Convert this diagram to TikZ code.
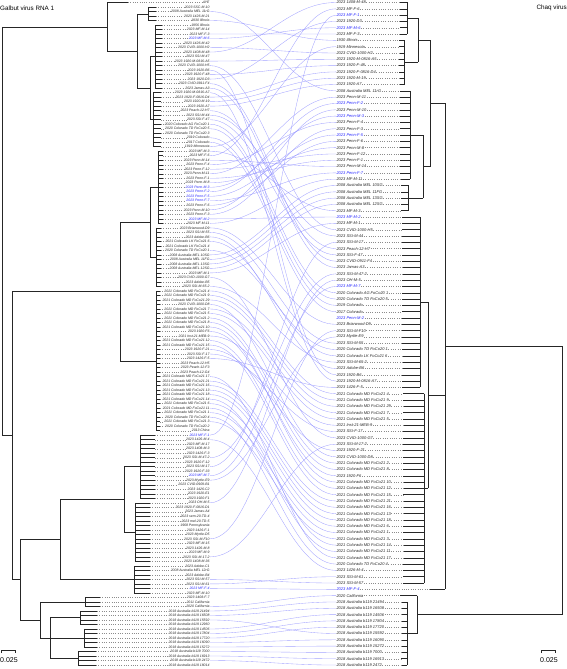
\documentclass[tikz,border=0pt]{standalone}
\usepackage{fontspec}
\setmainfont{Liberation Sans}
\begin{document}
\begin{tikzpicture}[x=1pt,y=-1pt,
  lab/.style={font=\fontsize{3.45}{3.45}\selectfont\itshape, inner sep=0.3pt},
  rlab/.style={font=\fontsize{4}{4}\selectfont\itshape, inner sep=0.3pt},
  br/.style={line width=0.5pt, black!85},
  leader/.style={dotted, line width=0.3pt, black!45},
  tangle/.style={line width=0.35pt, blue!45!white, opacity=0.8},
  title/.style={font=\fontsize{6.3}{6.3}\selectfont, inner sep=0pt, anchor=west},
  scl/.style={font=\fontsize{7}{7}\selectfont, inner sep=0pt}]
\useasboundingbox (0,0) rectangle (567,669);

% row positions of the tips
\def\ly#1{{2.5+4.507*(#1)}}
\def\ry#1{{2.5+6.31*(#1)}}
\newcommand\LV[3]{\draw[br] (#1,\ly{#2}) -- (#1,\ly{#3});}
\newcommand\LH[3]{\draw[br] (#1,\ly{#3}) -- (#2,\ly{#3});}
\newcommand\RV[3]{\draw[br] (#1,\ry{#2}) -- (#1,\ry{#3});}
\newcommand\RH[3]{\draw[br] (#1,\ry{#3}) -- (#2,\ry{#3});}
% a group of sister tips: rows #1..#2, node x #3, tip x #4, parent x #5
\newcommand\LG[5]{%
  \LV{#3}{#1}{#2}
  \foreach \r in {#1,...,#2}{\draw[br] (#3,\ly{\r}) -- (#4,\ly{\r}); \draw[leader] (#4,\ly{\r}) -- (L\r.west);}
  \LH{#5}{#3}{(#1+#2)/2}}
\newcommand\RG[5]{%
  \RV{#3}{#1}{#2}
  \foreach \r in {#1,...,#2}{\draw[br] (#3,\ry{\r}) -- (#4,\ry{\r}); \draw[leader] (R\r.east) -- (#4,\ry{\r});}
  \RH{#5}{#3}{(#1+#2)/2}}

% titles
\node[title] (tl) at (0,8) {Galbut virus RNA 1};
\node[title, anchor=east] (tr) at (567,8) {Chaq virus};

% left tip labels
\foreach \i/\s/\c in {
0/AYE/black, 1/2023 SSC-M-10/black, 2/2008 Australia MEL 11rG/black, 3/2023 1426-M-21/black,
4/1930 Illinois/black, 5/1956 Illinois/black, 6/2023 MF-M-14/black, 7/2023 MF-F-3/black,
8/2023 MF-M-6/blue, 9/2023 1426-M-42/black, 10/2023 CVID-1000-H2/black, 11/2023 1408-M-48/black,
12/2023 SSI-M-47/black, 13/2023 1920-M-0816-A5/black, 14/2023 CVID-1000-H5/black, 15/2023 1920-B6/black,
16/2023 1920-F-48/black, 17/2023 1920-D3/black, 18/2023 CVID-0911-F4/black, 19/2023 Jamas-A3/black,
20/2023 1920-M-0816-A7/black, 21/2023 1920-F-0816-D4/black, 22/2023 1920-M-19/black, 23/2023 1920-A7/black,
24/2023 Peach-12-H7/black, 25/2023 SSI-M-44/black, 26/2023 SSI-F-47/black, 27/2020 Colorado AG FoCo20 1/black,
28/2020 Colorado TD FoCo20 5/black, 29/2020 Colorado TD FoCo20 3/black, 30/2019 Colorado/black, 31/2017 Colorado/black,
32/1919 Minnesota/black, 33/2023 MF-M-3/black, 34/2023 MF-F-6/black, 35/2023 Penn-M-14/black,
36/2023 Penn-F-4/black, 37/2023 Penn-F-12/black, 38/2023 Penn-M-11/black, 39/2023 Penn-F-1/black,
40/2023 Penn-M-8/black, 41/2023 Penn-M-3/blue, 42/2023 Penn-F-2/blue, 43/2023 Penn-F-5/blue,
44/2023 Penn-F-7/blue, 45/2023 Penn-F-6/black, 46/2023 Penn-M-10/black, 47/2023 Penn-F-3/black,
48/2023 MF-M-2/blue, 49/2023 MF-M-11/black, 50/2023 Briarwood-D9/black, 51/2023 SSI-M-55/black,
52/2023 Adobe-B6/black, 53/2021 Colorado LK FoCo21 6/black, 54/2021 Colorado LK FoCo21 4/black, 55/2020 Colorado TD FoCo20 1/black,
56/2008 Australia MEL 10SG/black, 57/2008 Australia MEL 11FG/black, 58/2008 Australia MEL 13SG/black, 59/2008 Australia MEL 12SG/black,
60/2023 MF-M-1/black, 61/2023 CVID-1000-G7/black, 62/2023 Adobe-B5/black, 63/2023 SSI-M-65-2/black,
64/2021 Colorado MD FoCo21 4/black, 65/2021 Colorado MD FoCo21 9/black, 66/2021 Colorado MD FoCo21 29/black, 67/2023 CVID-1000-D8/black,
68/2021 Colorado MD FoCo21 7/black, 69/2021 Colorado MD FoCo21 5/black, 70/2021 Colorado MD FoCo21 2/black, 71/2021 Colorado MD FoCo21 8/black,
72/2021 Colorado MD FoCo21 10/black, 73/2023 1920-F6/black, 74/2021 Inst-21-MEB-9/black, 75/2021 Colorado MD FoCo21 12/black,
76/2021 Colorado MD FoCo21 15/black, 77/2023 1920-F-21/black, 78/2023 SSI-F-17/black, 79/2023 1426-F-5/black,
80/2023 Peach-12-H5/black, 81/2023 Peach-12-F3/black, 82/2023 Peach-12-G4/black, 83/2021 Colorado MD FoCo21 17/black,
84/2021 Colorado MD FoCo21 21/black, 85/2021 Colorado MD FoCo21 16/black, 86/2021 Colorado MD FoCo21 13/black, 87/2021 Colorado MD FoCo21 18/black,
88/2021 Colorado MD FoCo21 14/black, 89/2021 Colorado MD FoCo21 6/black, 90/2021 Colorado MD FoCo21 11/black, 91/2021 Colorado MD FoCo21 1/black,
92/2020 Colorado TD FoCo20 4/black, 93/2021 Colorado MD FoCo21 3/black, 94/2020 Colorado TD FoCo20 2/black, 95/2013 China/black,
96/2023 MF-F-1/blue, 97/2023 1426-M-4/black, 98/2023 MF-M-17/black, 99/2023 1408-M-3/black,
100/2023 1426-F-3/black, 101/2023 SSI-M-47-2/black, 102/2023 1920-F-12/black, 103/2023 SSI-M-17/black,
104/2023 1920-F-33/black, 105/2023 MF-M-7/blue, 106/2023 Myrtle-E9/black, 107/2023 CVID-0909-B1/black,
108/2023 1426-C2/black, 109/2023 1920-E1/black, 110/2023 1920-F1/black, 111/2023 OH-M-5/black,
112/2023 1920-F-0816-D1/black, 113/2023 Jamas-A4/black, 114/2023 sem-20-TD-4/black, 115/2023 mel-20-TD-5/black,
116/1968 Pennsylvania/black, 117/2023 1426-F-1/black, 118/2023 Myrtle-D5/black, 119/2023 SSI-M-F10/black,
120/2023 MF-M-15/black, 121/2023 1426-M-8/black, 122/2023 MF-M-9/black, 123/2023 SSI-M-17-2/black,
124/2023 1408-M-36/black, 125/2023 Adobe-C1/black, 126/2008 Australia MEL 12rG/black, 127/2023 Adobe-B4/black,
128/2023 SSI-M-57/black, 129/2023 SSI-M-61/black, 130/2023 MF-F-4/blue, 131/2023 MF-M-10/black,
132/2023 1408-F-7/black, 133/2011 California/black, 134/2020 California/black,
135/2018 Australia b119 21494/black, 136/2018 Australia b119 16508/black, 137/2018 Australia b119 15592/black,
138/2018 Australia b119 12960/black, 139/2018 Australia b119 14506/black, 140/2018 Australia b119 17804/black,
141/2018 Australia b119 17720/black, 142/2018 Australia b119 16090/black, 143/2018 Australia b119 15272/black,
144/2018 Australia b119 7000/black, 145/2018 Australia b119 16913/black, 146/2018 Australia b119 2472/black,
147/2018 Australia b119 18014/black}
  {\node[lab, anchor=east, text=\c!85] (L\i) at (210,\ly{\i}) {\s};}

% right tip labels
\foreach \j/\s/\c in {
0/2023 1408-M-48/black, 1/2023 MF-F-6/black, 2/2023 MF-F-1/blue, 3/2023 1920-D3/black,
4/2023 MF-M-6/blue, 5/2023 MF-F-3/black, 6/1930 Illinois/black, 7/1919 Minnesota/black,
8/2023 CVID-1000-H2/black, 9/2023 1920-M-0816-A5/black, 10/2023 1920-F-48/black, 11/2023 1920-F-0816-D4/black,
12/2023 1920-M-19/black, 13/2023 1920-A7/black, 14/2008 Australia MEL 11rG/black, 15/2023 Penn-M-11/black,
16/2023 Penn-F-2/blue, 17/2023 Penn-M-10/black, 18/2023 Penn-M-3/blue, 19/2023 Penn-F-4/black,
20/2023 Penn-F-3/black, 21/2023 Penn-F-5/blue, 22/2023 Penn-F-6/black, 23/2023 Penn-M-8/black,
24/2023 Penn-F-12/black, 25/2023 Penn-F-1/black, 26/2023 Penn-M-14/black, 27/2023 Penn-F-7/blue,
28/2023 MF-M-11/black, 29/2008 Australia MEL 10SG/black, 30/2008 Australia MEL 11FG/black, 31/2008 Australia MEL 13SG/black,
32/2008 Australia MEL 12SG/black, 33/2023 MF-M-3/black, 34/2023 MF-M-2/blue, 35/2023 MF-M-1/black,
36/2023 CVID-1000-H5/black, 37/2023 SSI-M-44/black, 38/2023 SSI-M-17/black, 39/2023 Peach-12-H7/black,
40/2023 SSI-F-47/black, 41/2023 CVID-0911-F4/black, 42/2023 Jamas-A3/black, 43/2023 SSI-M-47-2/black,
44/2023 OH-M-5/black, 45/2023 MF-M-7/blue, 46/2020 Colorado AG FoCo20 1/black, 47/2020 Colorado TD FoCo20 5/black,
48/2019 Colorado/black, 49/2017 Colorado/black, 50/2023 Penn-M-2/blue, 51/2023 Briarwood-D9/black,
52/2023 SSI-M-F10/black, 53/2023 Myrtle-E9/black, 54/2023 SSI-M-55/black, 55/2020 Colorado TD FoCo20 1/black,
56/2021 Colorado LK FoCo21 6/black, 57/2023 SSI-M-65-2/black, 58/2023 Adobe-B6/black, 59/2023 1920-B6/black,
60/2023 1920-M-0816-A7/black, 61/2023 1426-F-5/black, 62/2021 Colorado MD FoCo21 4/black, 63/2021 Colorado MD FoCo21 9/black,
64/2021 Colorado MD FoCo21 29/black, 65/2021 Colorado MD FoCo21 7/black, 66/2021 Colorado MD FoCo21 5/black, 67/2021 Inst-21-MEB-9/black,
68/2023 SSI-F-17/black, 69/2023 CVID-1000-G7/black, 70/2023 SSI-M-17-2/black, 71/2023 1920-F-21/black,
72/2023 CVID-1000-D8/black, 73/2021 Colorado MD FoCo21 2/black, 74/2021 Colorado MD FoCo21 8/black, 75/2023 1920-F6/black,
76/2021 Colorado MD FoCo21 10/black, 77/2021 Colorado MD FoCo21 12/black, 78/2021 Colorado MD FoCo21 15/black, 79/2021 Colorado MD FoCo21 21/black,
80/2021 Colorado MD FoCo21 16/black, 81/2021 Colorado MD FoCo21 13/black, 82/2021 Colorado MD FoCo21 18/black, 83/2021 Colorado MD FoCo21 6/black,
84/2021 Colorado MD FoCo21 1/black, 85/2021 Colorado MD FoCo21 3/black, 86/2021 Colorado MD FoCo21 14/black, 87/2021 Colorado MD FoCo21 11/black,
88/2021 Colorado MD FoCo21 17/black, 89/2020 Colorado TD FoCo20 4/black, 90/2023 1426-M-4/black, 91/2023 SSI-M-61/black,
92/2023 SSI-M-57/black, 93/2023 MF-F-4/blue, 94/2020 California/black,
95/2018 Australia b119 21494/black, 96/2018 Australia b119 16508/black, 97/2018 Australia b119 14506/black,
98/2018 Australia b119 17804/black, 99/2018 Australia b119 17720/black, 100/2018 Australia b119 15592/black,
101/2018 Australia b119 16090/black, 102/2018 Australia b119 15272/black, 103/2018 Australia b119 7000/black,
104/2018 Australia b119 16913/black, 105/2018 Australia b119 2472/black}
  {\node[rlab, anchor=west, text=\c!85] (R\j) at (336,\ry{\j}) {\s};}

% connectors between the same isolate in both trees
\foreach \a/\b in {11/0, 34/1, 96/2, 17/3, 8/4, 7/5, 4/6, 32/7, 10/8, 13/9, 16/10, 21/11, 22/12, 23/13, 2/14,
  38/15, 42/16, 46/17, 41/18, 36/19, 47/20, 43/21, 45/22, 40/23, 37/24, 39/25, 35/26, 44/27, 49/28,
  56/29, 57/30, 58/31, 59/32, 33/33, 48/34, 60/35, 14/36, 25/37, 103/38, 24/39, 26/40, 18/41, 19/42,
  101/43, 111/44, 105/45, 27/46, 28/47, 30/48, 31/49, 50/51, 119/52, 106/53, 51/54, 55/55, 53/56,
  63/57, 52/58, 15/59, 20/60, 79/61, 64/62, 65/63, 66/64, 68/65, 69/66, 74/67, 78/68, 61/69, 123/70,
  77/71, 67/72, 70/73, 71/74, 73/75, 72/76, 75/77, 76/78, 84/79, 85/80, 86/81, 87/82, 89/83, 91/84,
  93/85, 88/86, 90/87, 83/88, 92/89, 97/90, 129/91, 128/92, 130/93, 134/94,
  135/95, 136/96, 139/97, 140/98, 141/99, 137/100, 142/101, 143/102, 144/103, 145/104, 146/105}
  {\draw[tangle] (L\a.east) .. controls +(50,0) and +(-50,0) .. (R\b.west);}

% ---- left tree (Galbut virus RNA 1) ----
% upper clade
\LG{0}{0}{107}{128}{107}
\LG{1}{4}{148}{156}{137}
\LG{5}{19}{155}{162}{150}
\LG{20}{32}{153}{161}{150}
\LV{150}{12}{26}
\LH{137}{150}{19}
\LV{137}{2.5}{19}
\LH{107}{137}{10.75}
\LV{107}{0}{10.75}
\LH{2}{107}{5.4}
% middle clade
\LG{33}{49}{158}{163}{150}
\LG{50}{63}{156}{161}{150}
\LV{150}{41}{56.5}
\LH{120}{150}{48.75}
\LG{64}{95}{156}{160}{120}
\LV{120}{48.75}{79.5}
\LH{12}{120}{64.1}
% lower clade
\LG{96}{110}{140}{155}{124}
\LG{111}{124}{135}{150}{124}
\LV{124}{103}{117.5}
\LH{60}{124}{110.25}
\LG{125}{131}{134}{150}{60}
\LV{60}{110.25}{128}
\LH{20}{60}{119.1}
\LG{132}{134}{85}{100}{40}
\LG{135}{138}{80}{97}{50}
\LG{139}{143}{84}{97}{50}
\LG{144}{147}{78}{96}{50}
\LV{50}{136.5}{145.5}
\LH{40}{50}{141}
\LV{40}{133}{141}
\LH{20}{40}{137}
\LV{20}{119.1}{137}
\LH{12}{20}{128.05}
\LV{12}{64.1}{128.05}
\LH{2}{12}{96.1}
\LV{2}{5.4}{96.1}

% ---- right tree (Chaq virus) ----
\RG{0}{5}{407}{400}{418}
\RG{6}{13}{404}{399}{418}
\RV{418}{2.5}{9.5}
\RH{430}{418}{6}
\RG{14}{28}{410}{400}{423}
\RG{29}{33}{408}{401}{423}
\RV{423}{21}{31}
\RH{430}{423}{26}
\RV{430}{6}{26}
\RH{445}{430}{16}
\RG{34}{61}{420}{402}{428}
\RG{62}{92}{424}{403}{428}
\RV{428}{47.5}{77}
\RH{445}{428}{62.25}
\RG{93}{93}{432}{430}{445}
\RV{445}{16}{93}
\RH{562}{445}{54.5}
\RG{94}{94}{417}{400}{417}
\RG{95}{105}{407}{401}{417}
\RV{417}{94}{100}
\RH{562}{417}{97}
\RV{562}{54.5}{97}

% scale bars
\draw[br] (1,653) -- (1,650) -- (15,650) -- (15,653);
\node[scl, anchor=north west] (sl) at (0,657) {0.025};
\draw[br] (541,653) -- (541,650) -- (555,650) -- (555,653);
\node[scl, anchor=north west] (sr) at (540,657) {0.025};
\end{tikzpicture}
\end{document}
